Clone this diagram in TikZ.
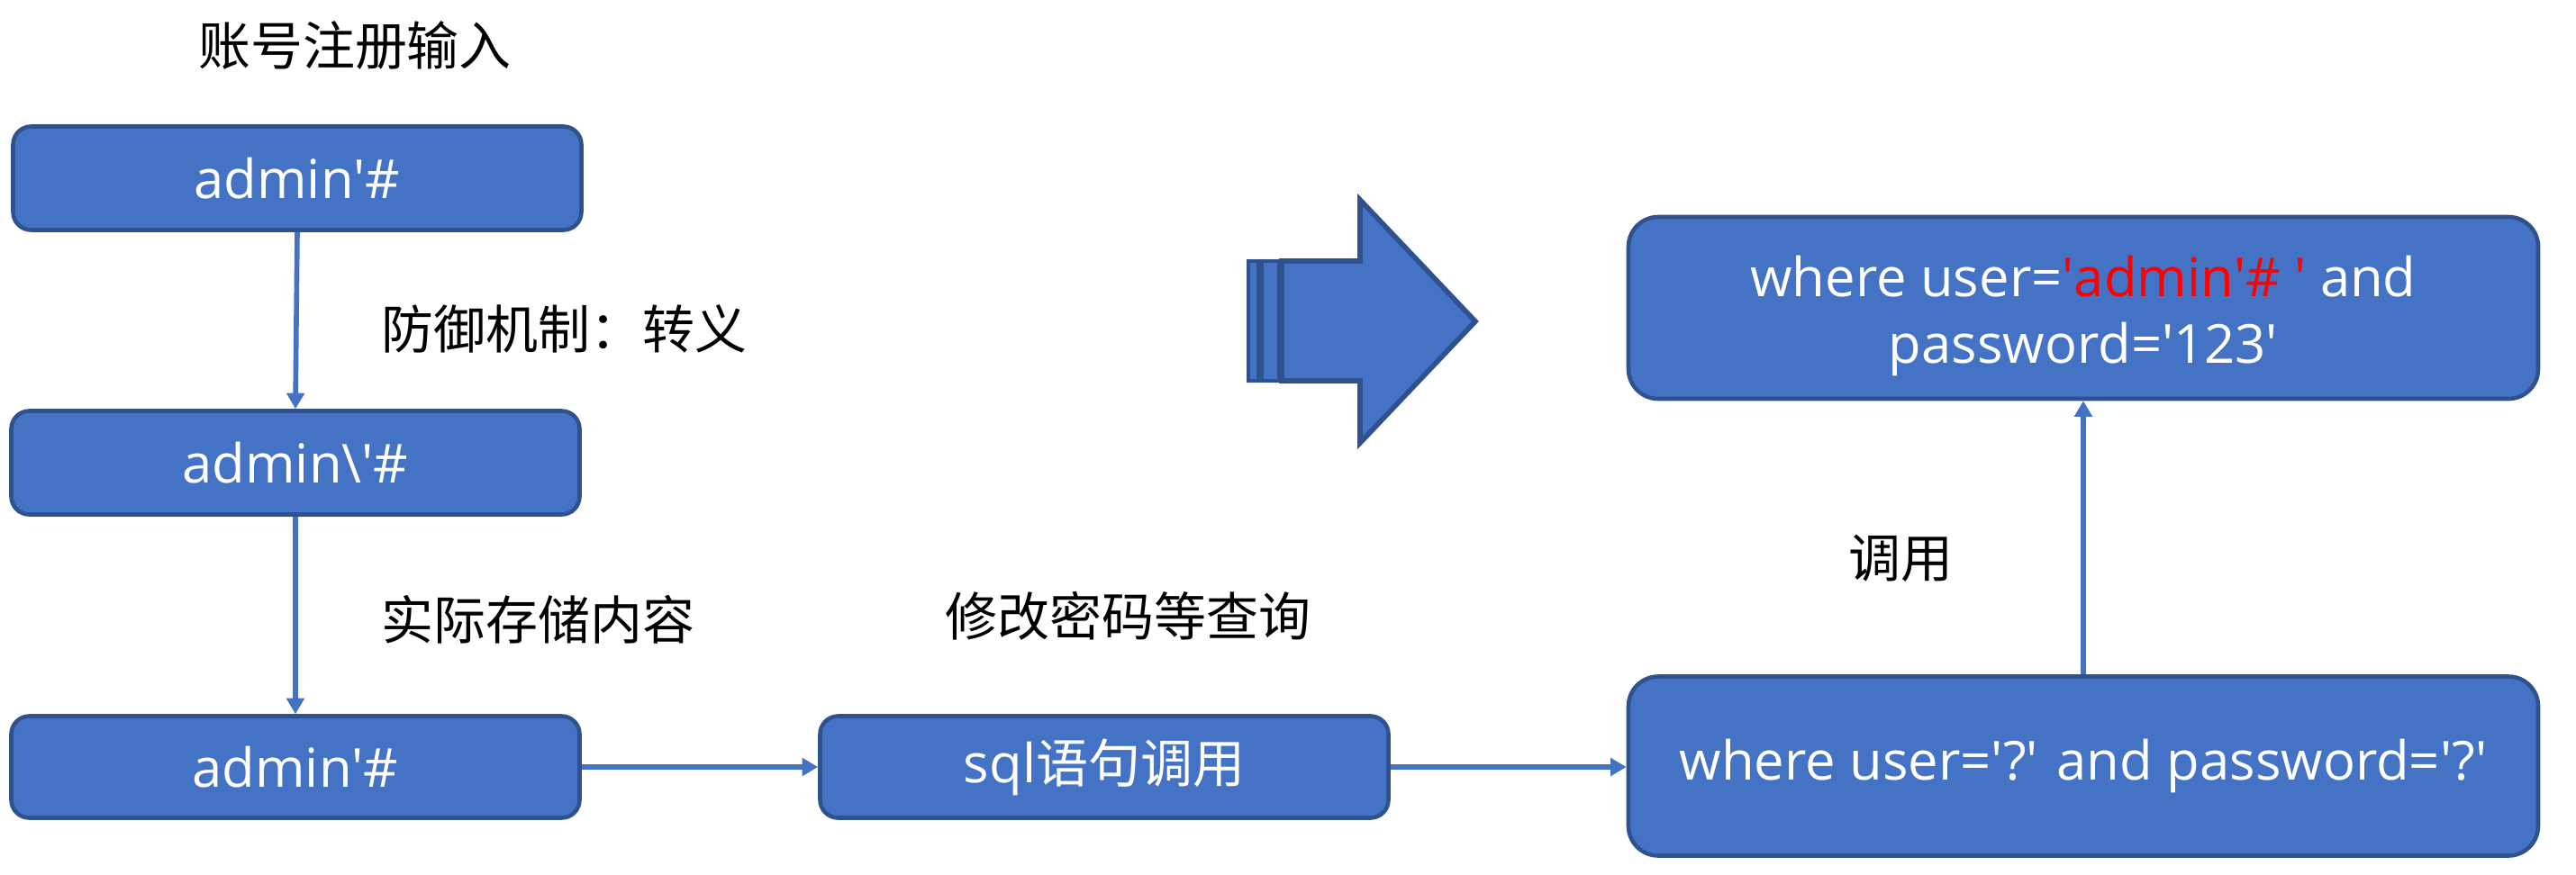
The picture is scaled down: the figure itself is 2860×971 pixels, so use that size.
\documentclass[tikz,border=0pt]{standalone}
\usepackage{fontspec}
\setmainfont{Open Sans}
\newfontfamily\cjk{Noto Sans CJK SC}
\usetikzlibrary{arrows.meta}
\definecolor{boxfill}{HTML}{4472C4}
\definecolor{boxline}{HTML}{2F528F}
\newcommand{\sq}{\textquotesingle}
\tikzset{
  box/.style={rectangle, rounded corners=2mm, draw=boxline, line width=1.3pt, fill=boxfill,
    text=white, font=\fontsize{17}{22}\selectfont, align=center, inner sep=0pt},
  bigbox/.style={box, rounded corners=3.3mm},
  lbl/.style={anchor=west, font=\cjk\fontsize{16.5}{20}\selectfont, inner sep=0pt},
  conn/.style={draw=boxfill, line width=1.6pt, -{Triangle[length=5pt,width=5.5pt]}},
  bigarrow/.style={draw=boxline, line width=1.6pt, fill=boxfill, line join=miter},
}
\begin{document}
\begin{tikzpicture}[x=0.1mm, y=-0.1mm]
\useasboundingbox (0,0) rectangle (2860,971);
% boxes
\node[box, minimum width=63.1mm, minimum height=11.5mm] (b1) at (330,198) {admin\sq\#};
\node[box, minimum width=63.1mm, minimum height=11.5mm] (b2) at (328,514) {admin\textbackslash\sq\#};
\node[box, minimum width=63.1mm, minimum height=11.3mm] (b3) at (328,852) {admin\sq\#};
\node[box, minimum width=63.1mm, minimum height=11.3mm] (b4) at (1226,852) {sql{\cjk\fontsize{16.5}{20}\selectfont 语句调用}};
\node[bigbox, minimum width=101mm, minimum height=19.9mm] (b5) at (2313,851) {where user=\sq?\sq{} and password=\sq?\sq};
\node[bigbox, minimum width=101mm, minimum height=20.2mm] (b6) at (2313,342) {\raisebox{-1mm}[\height][\depth]{\fontsize{17}{21}\selectfont\begin{tabular}{@{}c@{}}where user=\textcolor{red}{\sq admin\sq\# \sq} and\\password=\sq123\sq\end{tabular}}};
% labels
\node[anchor=center, font=\cjk\fontsize{16.5}{20}\selectfont, inner sep=0pt] (t0) at (394,51) {账号注册输入};
\node[lbl] (t1) at (423,365) {防御机制：转义};
\node[lbl] (t2) at (423,688) {实际存储内容};
\node[lbl] (t3) at (1049,684) {修改密码等查询};
\node[lbl] (t4) at (2052,620) {调用};
% connectors
\draw[conn] (b1.south) -- (b2.north);
\draw[conn] (b2.south) -- (b3.north);
\draw[conn] (b3.east) -- (b4.west);
\draw[conn] (b4.east) -- (b4.east -| b5.west);
\draw[conn] (b5.north) -- (b6.south);
% big arrow
\draw[bigarrow] (1423,290) -- (1510,290) -- (1510,222) -- (1638,357) -- (1510,492) -- (1510,423) -- (1423,423) -- cycle;
\draw[draw=boxline, line width=1.2pt, fill=boxfill] (1386,290) rectangle (1397,423);
\draw[draw=boxline, line width=1.2pt, fill=boxfill] (1401,290) rectangle (1420,423);
\end{tikzpicture}
\end{document}
